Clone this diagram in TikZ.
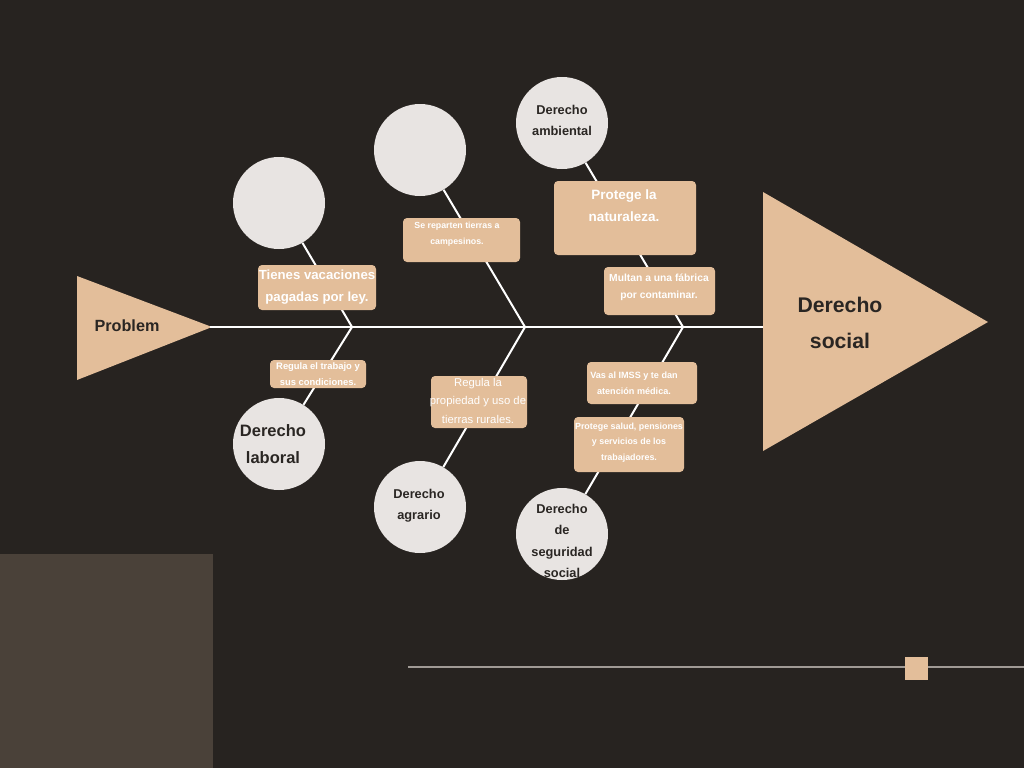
\documentclass[tikz,border=0pt]{standalone}
\usepackage{fontspec}
\setmainfont{Liberation Sans}
\definecolor{bg}{HTML}{272320}
\definecolor{tan}{HTML}{E3BE9A}
\definecolor{circ}{HTML}{E8E4E2}
\definecolor{panel}{HTML}{4A4139}
\definecolor{ink}{HTML}{2A2623}
\definecolor{bline}{HTML}{A09A95}
\tikzset{
  bone/.style={draw=white,line width=2pt},
  circnode/.style={circle,fill=circ,minimum size=92pt,inner sep=0pt,text=ink,align=center},
  boxnode/.style={fill=tan,rounded corners=4pt,inner sep=0pt},
  btext/.style={text=white,align=center,inner sep=0pt},
}
\begin{document}
\begin{tikzpicture}[x=1pt,y=-1pt]
\useasboundingbox (0,0) rectangle (1024,768);
\fill[bg] (0,0) rectangle (1024,768);
\fill[panel] (0,554) rectangle (213,768);
% bottom line and square
\coordinate (bl1) at (408,667);
\coordinate (bl2) at (1024,667);
\draw[bline,line width=1.5pt] (bl1) -- (bl2);
\node[fill=tan,minimum size=23pt,inner sep=0pt] (sq) at (916.5,668.5) {};
% triangles
\fill[tan] (77,276) -- (77,380) -- (212,327) -- cycle;
\fill[tan] (763,192) -- (763,451) -- (988,322) -- cycle;
\coordinate (tipL) at (210,327);
\coordinate (baseR) at (763,327);
\node[text=ink,font=\fontsize{16.2}{18}\selectfont\bfseries] (prob) at (127,326) {Problem};
\node[text=ink,font=\fontsize{21.2}{36}\selectfont\bfseries,align=center] (soc) at (840,323) {Derecho\\social};
% spine
\draw[bone] (tipL) -- (baseR);
\coordinate (j1) at (352,327);
\coordinate (j2) at (525,327);
\coordinate (j3) at (683,327);
% circles
\node[circnode] (c1) at (279,203) {};
\node[circnode] (c2) at (279,444) {};
\node[circnode] (c3) at (420,150) {};
\node[circnode] (c4) at (420,507) {};
\node[circnode] (c5) at (562,123) {};
\node[circnode] (c6) at (562,534) {};
% bones
\draw[bone] (j1) -- (c1);
\draw[bone] (j1) -- (c2);
\draw[bone] (j2) -- (c3);
\draw[bone] (j2) -- (c4);
\draw[bone] (j3) -- (c5);
\draw[bone] (j3) -- (c6);
% circle texts
\node[text=ink,align=center,font=\fontsize{16.5}{27}\selectfont\bfseries] (t2) at (273,444) {Derecho\\laboral};
\node[text=ink,align=center,font=\fontsize{12.8}{21}\selectfont\bfseries] (t4) at (419,506) {Derecho\\agrario};
\node[text=ink,align=center,font=\fontsize{12.8}{21}\selectfont\bfseries] (t5) at (562,120) {Derecho\\ambiental};
\node[text=ink,align=center,font=\fontsize{12.8}{21.5}\selectfont\bfseries] (t6) at (562,541) {Derecho\\de\\seguridad\\social};
% boxes
\node[boxnode,minimum width=118pt,minimum height=45pt] (b1) at (317,287.5) {};
\node[btext,font=\fontsize{13.2}{22}\selectfont\bfseries] at (b1) {Tienes vacaciones\\pagadas por ley.};
\node[boxnode,minimum width=96pt,minimum height=28pt] (b2) at (318,374) {};
\node[btext,font=\fontsize{9.4}{16}\selectfont\bfseries] at (b2) {Regula el trabajo y\\sus condiciones.};
\node[boxnode,minimum width=117pt,minimum height=44pt] (b3) at (461.5,240) {};
\node[btext,font=\fontsize{8.8}{16}\selectfont\bfseries] at (457,234) {Se reparten tierras a\\campesinos.};
\node[boxnode,minimum width=96pt,minimum height=52pt] (b4) at (479,402) {};
\node[btext,font=\fontsize{11.3}{18.5}\selectfont] at (478,400.5) {Regula la\\propiedad y uso de\\tierras rurales.};
\node[boxnode,minimum width=142pt,minimum height=74pt] (b5) at (625,218) {};
\node[btext,font=\fontsize{13.5}{22}\selectfont\bfseries] at (624,206) {Protege la\\naturaleza.};
\node[boxnode,minimum width=111pt,minimum height=48pt] (b6) at (659.5,291) {};
\node[btext,font=\fontsize{10.3}{17}\selectfont\bfseries] at (659,287.5) {Multan a una fábrica\\por contaminar.};
\node[boxnode,minimum width=110pt,minimum height=42pt] (b7) at (642,383) {};
\node[btext,font=\fontsize{9.1}{16}\selectfont\bfseries] at (634,383) {Vas al IMSS y te dan\\atención médica.};
\node[boxnode,minimum width=110pt,minimum height=55pt] (b8) at (629,444.5) {};
\node[btext,font=\fontsize{8.9}{15.5}\selectfont\bfseries] at (629,442.5) {Protege salud, pensiones\\y servicios de los\\trabajadores.};
\end{tikzpicture}
\end{document}
